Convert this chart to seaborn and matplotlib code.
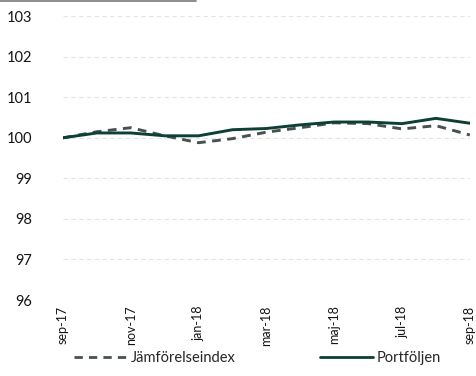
import matplotlib
matplotlib.use("Agg")
import matplotlib.pyplot as plt
import seaborn as sns
import pandas as pd
from matplotlib.lines import Line2D

# Monthly index levels, sep-17 .. sep-18
months = ["sep-17", "okt-17", "nov-17", "dec-17", "jan-18", "feb-18", "mar-18",
          "apr-18", "maj-18", "jun-18", "jul-18", "aug-18", "sep-18"]
jamforelseindex = [100.00, 100.15, 100.25, 100.05, 99.88, 99.98, 100.14,
                   100.25, 100.37, 100.35, 100.22, 100.30, 100.07]
portfoljen = [100.00, 100.12, 100.12, 100.05, 100.05, 100.20, 100.23,
              100.32, 100.39, 100.39, 100.35, 100.48, 100.36]
tick_labels = ["sep-17", "nov-17", "jan-18", "mar-18", "maj-18", "jul-18", "sep-18"]
y_ticks = [96, 97, 98, 99, 100, 101, 102, 103]

series_names = ["Jämförelseindex", "Portföljen"]
df = pd.DataFrame({
    "m": list(range(len(months))) * 2,
    "v": jamforelseindex + portfoljen,
    "serie": [series_names[0]] * len(months) + [series_names[1]] * len(months),
})

sns.set_theme(style="white")
plt.rcParams["font.family"] = ["Lato", "DejaVu Sans"]

fig = plt.figure(figsize=(4.77, 3.76), dpi=100)
ax = fig.add_axes([0.132, 0.202, 0.853, 0.755])

colors = {"Jämförelseindex": "#46524f", "Portföljen": "#0d4034"}
sns.lineplot(data=df, x="m", y="v", hue="serie", style="serie",
             palette=colors, dashes={"Jämförelseindex": (3, 2.2), "Portföljen": ""},
             linewidth=2.1, ax=ax, legend=False)

# bring the solid line to the front
for ln in ax.get_lines():
    if ln.get_linestyle() == "-":
        ln.set_zorder(4)

ax.set_xlim(0, len(months) - 1)
ax.set_ylim(96, 103)
ax.set_yticks(y_ticks)
ax.set_yticklabels([str(t) for t in y_ticks], fontsize=10.5, color="#151515")
ax.set_xticks(list(range(0, len(months), 2)))
ax.set_xticklabels(tick_labels, rotation=90, fontsize=9, color="#151515")
ax.tick_params(axis="y", pad=22, length=0)
ax.tick_params(axis="x", pad=4, length=0)
ax.set_xlabel("")
ax.set_ylabel("")
for s in ax.spines.values():
    s.set_visible(False)
ax.yaxis.grid(True, color="#e4e4e4", linestyle=(0, (4, 3)), linewidth=0.8)
ax.set_axisbelow(True)

# rule at the very top of the figure
fig.add_artist(Line2D([0.0, 0.41], [0.998, 0.998], color="#7a7a7a",
                      linewidth=1.2, transform=fig.transFigure))

handles = [Line2D([], [], color=colors["Jämförelseindex"], linestyle=(0, (3, 2.2)), linewidth=2),
           Line2D([], [], color=colors["Portföljen"], linestyle="-", linewidth=2)]
fig.legend(handles, series_names, loc="lower center", bbox_to_anchor=(0.54, -0.005),
           ncol=2, frameon=False, fontsize=10.5, handlelength=3.6, handletextpad=0.3,
           columnspacing=5.8)

fig.savefig("out.png", dpi=100)
